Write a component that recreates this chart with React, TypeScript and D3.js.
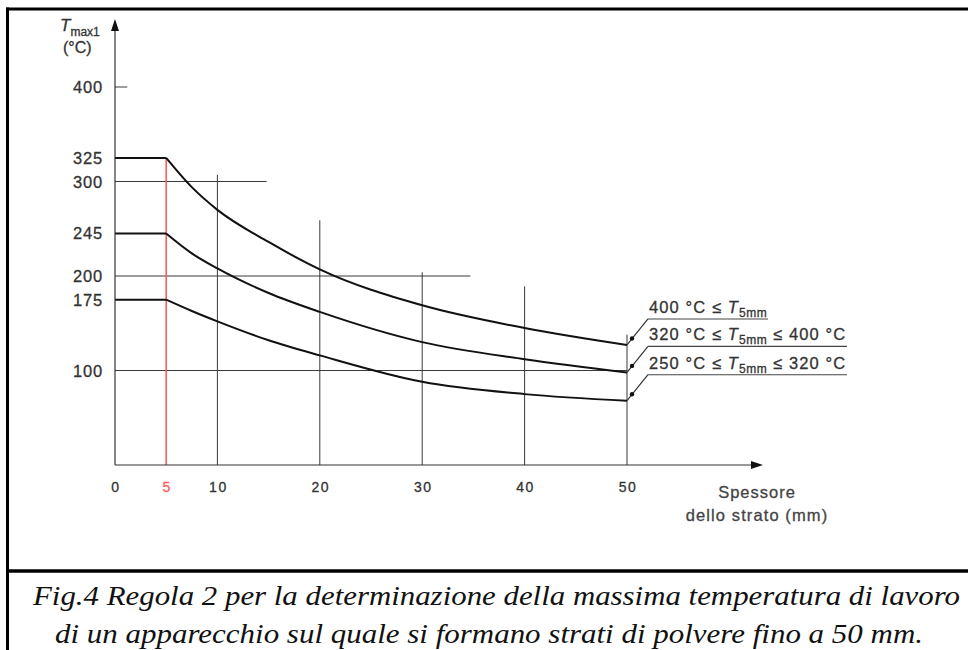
import React from "react";
import * as d3 from "d3";

// ---- data ----
const xTicks = [0, 5, 10, 20, 30, 40, 50];
const yTicks = [400, 325, 300, 245, 200, 175, 100];
const thickness = [5, 7.5, 10, 15, 20, 30, 40, 50];
const curveTop = [325, 294, 270, 236, 207, 169, 145, 127];
const curveMid = [245, 224, 208, 182, 162, 130, 112, 98];
const curveLow = [175, 163, 152, 132, 116, 88, 75, 68];
const seriesNames = ["400 °C ≤ T5mm", "320 °C ≤ T5mm ≤ 400 °C", "250 °C ≤ T5mm ≤ 320 °C"];
const legendParts = [
  ["400 °C ≤ ", ""],
  ["320 °C ≤ ", " ≤ 400 °C"],
  ["250 °C ≤ ", " ≤ 320 °C"],
];
// horizontal guide lines: [value, extends to mm]
const hGrid = [
  [400, 1.2],
  [300, 14.8],
  [200, 34.7],
  [100, 50],
];
// vertical guide lines: [mm, extends up to value]
const vGrid = [
  [10, 307],
  [20, 259],
  [30, 204],
  [40, 189],
  [50, 138],
];
const redLine = 5;
const xTitle = ["Spessore", "dello strato (mm)"];
const caption = [
  "Fig.4 Regola 2 per la determinazione della massima temperatura di lavoro",
  "di un apparecchio sul quale si formano strati di polvere fino a 50 mm.",
];

const W = 968;
const H = 650;

export default function App() {
  const x = d3.scaleLinear().domain([0, 50]).range([115, 627]);
  const y = d3.scaleLinear().domain([0, 400]).range([465, 87]);
  const series = [curveTop, curveMid, curveLow];
  const line = d3
    .line<[number, number]>()
    .x((d) => x(d[0]))
    .y((d) => y(d[1]))
    .curve(d3.curveMonotoneX);
  const flat = d3
    .line<[number, number]>()
    .x((d) => x(d[0]))
    .y((d) => y(d[1]));
  const grid = "#3a3a3a";
  const legendW = [120, 199, 199];
  const txt = { fill: "#333", stroke: "#333", strokeWidth: 0.3 };

  return (
    <svg
      width={W}
      height={H}
      style={{ position: "absolute", left: 0, top: 0, background: "#fff" }}
      fontFamily="Arial, 'Liberation Sans', sans-serif"
    >
      {/* frame */}
      <line x1={7.5} y1={7.5} x2={7.5} y2={H} stroke="#000" strokeWidth={3} />
      <line x1={6} y1={9} x2={W} y2={9} stroke="#000" strokeWidth={3} />
      <line x1={6} y1={571} x2={W} y2={571} stroke="#000" strokeWidth={3.3} />

      {/* horizontal guides */}
      {hGrid.map(([v, e], i) => (
        <line key={"h" + i} x1={x(0)} x2={x(e)} y1={y(v)} y2={y(v)} stroke={grid} strokeWidth={1} />
      ))}
      {/* vertical guides */}
      {vGrid.map(([m, top], i) => (
        <line key={"v" + i} x1={x(m)} x2={x(m)} y1={y(0)} y2={y(top)} stroke={grid} strokeWidth={1} />
      ))}
      {/* red line at 5 mm */}
      <line
        x1={x(redLine)}
        x2={x(redLine)}
        y1={y(0)}
        y2={y(curveTop[0])}
        stroke="#ff5a5a"
        strokeWidth={1.6}
      />

      {/* curves */}
      {series.map((s, i) => {
        const pts = thickness.map((t, j) => [t, s[j]] as [number, number]);
        return (
          <g key={"c" + i} fill="none" stroke="#111" strokeWidth={2}>
            <path d={flat([[0, s[0]], [thickness[0], s[0]]]) || ""} />
            <path d={line(pts) || ""} />
          </g>
        );
      })}

      {/* axes */}
      <line x1={x(0)} x2={757} y1={y(0)} y2={y(0)} stroke="#333" strokeWidth={1.2} />
      <path d={`M763,${y(0)} L751,${y(0) - 4} L751,${y(0) + 4} Z`} fill="#111" />
      <line x1={x(0)} x2={x(0)} y1={y(0)} y2={26} stroke="#333" strokeWidth={1.2} />
      <path d={`M${x(0)},19 L${x(0) - 4},31 L${x(0) + 4},31 Z`} fill="#111" />

      {/* y tick labels */}
      {yTicks.map((v) => (
        <text
          key={"yt" + v}
          x={103}
          y={y(v) + 6}
          textAnchor="end"
          fontSize={16.5}
          letterSpacing={0.8}
          {...txt}
        >
          {v}
        </text>
      ))}
      {/* x tick labels */}
      {xTicks.map((v) => (
        <text
          key={"xt" + v}
          x={x(v) + 1}
          y={492}
          textAnchor="middle"
          fontSize={14}
          letterSpacing={1.5}
          {...txt}
          fill={v === redLine ? "#ff5a5a" : "#333"}
          stroke={v === redLine ? "#ff5a5a" : "#333"}
        >
          {v}
        </text>
      ))}

      {/* axis titles */}
      <text x={60} y={31} fontSize={17} {...txt}>
        <tspan fontStyle="italic">T</tspan>
        <tspan fontSize={12} dy={5}>max1</tspan>
      </text>
      <text x={63} y={53} fontSize={16} {...txt}>(°C)</text>
      <text x={757} y={498} textAnchor="middle" fontSize={16.5} letterSpacing={1} {...txt} fill="#444" stroke="#444">
        {xTitle[0]}
      </text>
      <text x={757} y={521} textAnchor="middle" fontSize={16.5} letterSpacing={1.1} {...txt} fill="#444" stroke="#444">
        {xTitle[1]}
      </text>

      {/* legend leaders */}
      {series.map((s, i) => {
        const ex = x(thickness[thickness.length - 1]);
        const ey = y(s[s.length - 1]);
        const lx = ex + 21;
        const ly = ey - 26;
        const dx = ex + 5;
        const dy = ey - 6.5;
        return (
          <g key={"lg" + i}>
            <line x1={ex} y1={ey} x2={lx} y2={ly} stroke="#333" strokeWidth={1.2} />
            <circle cx={dx} cy={dy} r={2.2} fill="#111" />
            <line x1={lx} y1={ly} x2={lx + legendW[i]} y2={ly} stroke="#444" strokeWidth={1.2} />
            <text
              x={lx + 1}
              y={ly - 6}
              fontSize={16.5}
              letterSpacing={1.1}
              {...txt}
              aria-label={seriesNames[i]}
            >
              {legendParts[i][0]}
              <tspan fontStyle="italic">T</tspan>
              <tspan fontSize={12} dy={4} letterSpacing={0.6}>5mm</tspan>
              <tspan dy={-4}>{legendParts[i][1]}</tspan>
            </text>
          </g>
        );
      })}

      {/* caption */}
      <text
        x={33}
        y={605}
        textLength={927}
        lengthAdjust="spacingAndGlyphs"
        fontFamily="'Liberation Serif', 'Times New Roman', serif"
        fontStyle="italic"
        fontSize={27}
        fill="#111"
      >
        {caption[0]}
      </text>
      <text
        x={55}
        y={643}
        textLength={868}
        lengthAdjust="spacingAndGlyphs"
        fontFamily="'Liberation Serif', 'Times New Roman', serif"
        fontStyle="italic"
        fontSize={27}
        fill="#111"
      >
        {caption[1]}
      </text>
    </svg>
  );
}
